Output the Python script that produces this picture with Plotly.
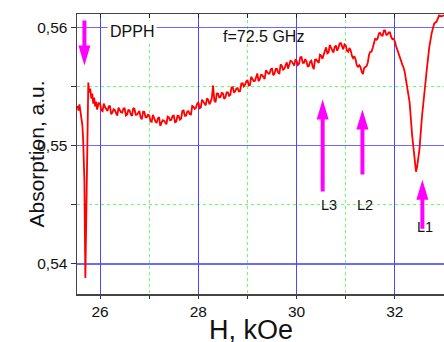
import plotly.graph_objects as go

# ---- data ----
field_koe = [
    25.54, 25.56, 25.58, 25.60, 25.62, 25.64, 25.655, 25.68, 25.70, 25.72, 25.74, 25.76,
    25.78, 25.80, 25.82, 25.84, 25.86, 25.88, 25.90, 25.92, 25.94, 25.97,
    26.00, 26.05, 26.10, 26.15, 26.20, 26.25, 26.30, 26.35, 26.40, 26.45,
    26.50, 26.55, 26.60, 26.65, 26.70, 26.75, 26.80, 26.85, 26.90, 26.95,
    27.00, 27.05, 27.10, 27.15, 27.20, 27.25, 27.30, 27.35, 27.40, 27.45,
    27.50, 27.55, 27.60, 27.65, 27.70, 27.75, 27.80, 27.85, 27.90, 27.95,
    28.00, 28.05, 28.10, 28.15, 28.20, 28.25, 28.30, 28.35, 28.40, 28.45,
    28.50, 28.55, 28.60, 28.65, 28.70, 28.75, 28.80, 28.85, 28.90, 28.95,
    29.00, 29.05, 29.10, 29.15, 29.20, 29.25, 29.30, 29.35, 29.40, 29.45,
    29.50, 29.55, 29.60, 29.65, 29.70, 29.75, 29.80, 29.85, 29.90, 29.95,
    30.00, 30.05, 30.10, 30.15, 30.20, 30.25, 30.30, 30.35, 30.40, 30.45,
    30.50, 30.55, 30.60, 30.65, 30.70, 30.75, 30.80, 30.85, 30.90, 30.95,
    31.00, 31.05, 31.10, 31.15, 31.20, 31.25, 31.30, 31.35, 31.40, 31.45,
    31.50, 31.55, 31.60, 31.65, 31.70, 31.75, 31.80, 31.85, 31.90, 31.95,
    32.00, 32.05, 32.10, 32.15, 32.20, 32.25, 32.30, 32.35, 32.40, 32.43,
    32.45, 32.50, 32.55, 32.60, 32.65, 32.70, 32.75, 32.80, 32.85, 32.90,
    32.95, 33.00,
]
absorption = [
    0.55339, 0.55297, 0.55348, 0.55280, 0.55238, 0.55170, 0.55051, 0.54712, 0.53881, 0.54542, 0.55195, 0.55534,
    0.55449, 0.55483, 0.55399, 0.55441, 0.55356, 0.55407, 0.55331, 0.55373, 0.55305, 0.55360,
    0.55356, 0.55292, 0.55326, 0.55293, 0.55339, 0.55279, 0.55300, 0.55255, 0.55303, 0.55279,
    0.55316, 0.55263, 0.55300, 0.55251, 0.55310, 0.55262, 0.55293, 0.55223, 0.55285, 0.55240,
    0.55256, 0.55202, 0.55231, 0.55192, 0.55241, 0.55192, 0.55212, 0.55181, 0.55240, 0.55218,
    0.55254, 0.55203, 0.55250, 0.55229, 0.55297, 0.55254, 0.55291, 0.55263, 0.55329, 0.55318,
    0.55367, 0.55323, 0.55372, 0.55340, 0.55388, 0.55369, 0.55509, 0.55367, 0.55441, 0.55410,
    0.55442, 0.55406, 0.55451, 0.55429, 0.55495, 0.55459, 0.55487, 0.55461, 0.55527, 0.55514,
    0.55555, 0.55513, 0.55559, 0.55547, 0.55610, 0.55563, 0.55596, 0.55564, 0.55625, 0.55610,
    0.55651, 0.55607, 0.55648, 0.55611, 0.55674, 0.55651, 0.55704, 0.55681, 0.55713, 0.55677,
    0.55718, 0.55692, 0.55749, 0.55700, 0.55712, 0.55673, 0.55718, 0.55647, 0.55729, 0.55699,
    0.55762, 0.55763, 0.55831, 0.55788, 0.55821, 0.55788, 0.55846, 0.55826, 0.55867, 0.55814,
    0.55847, 0.55794, 0.55806, 0.55740, 0.55730, 0.55667, 0.55665, 0.55605, 0.55669, 0.55705,
    0.55794, 0.55827, 0.55906, 0.55906, 0.55953, 0.55929, 0.55973, 0.55939, 0.55957, 0.55901,
    0.55881, 0.55810, 0.55760, 0.55685, 0.55624, 0.55512, 0.55365, 0.55094, 0.54882, 0.54780,
    0.54814, 0.54967, 0.55238, 0.55475, 0.55644, 0.55831, 0.55953, 0.56033, 0.56049, 0.56101,
    0.56094, 0.56102,
]
# additional in-between samples of the noisy trace
field_fine = [
    26.025, 26.075, 26.125, 26.175, 26.225, 26.275, 26.325, 26.375, 26.425, 26.475,
    26.525, 26.575, 26.625, 26.675, 26.725, 26.775, 26.825, 26.875, 26.925, 26.975,
    27.025, 27.075, 27.125, 27.175, 27.225, 27.275, 27.325, 27.375, 27.425, 27.475,
    27.525, 27.575, 27.625, 27.675, 27.725, 27.775, 27.825, 27.875, 27.925, 27.975,
    28.025, 28.075, 28.125, 28.175, 28.225, 28.275, 28.325, 28.375, 28.425, 28.475,
    28.525, 28.575, 28.625, 28.675, 28.725, 28.775, 28.825, 28.875, 28.925, 28.975,
    29.025, 29.075, 29.125, 29.175, 29.225, 29.275, 29.325, 29.375, 29.425, 29.475,
    29.525, 29.575, 29.625, 29.675, 29.725, 29.775, 29.825, 29.875, 29.925, 29.975,
    30.025, 30.075, 30.125, 30.175, 30.225, 30.275, 30.325, 30.375, 30.425, 30.475,
    30.525, 30.575, 30.625, 30.675, 30.725, 30.775, 30.825, 30.875, 30.925, 30.975,
    31.025, 31.075, 31.125, 31.175, 31.225, 31.275, 31.325, 31.375, 31.425, 31.475,
    31.525, 31.575, 31.625, 31.675, 31.725, 31.775, 31.825, 31.875, 31.925, 31.975,
    32.025, 32.075, 32.125, 32.175,
]
absorption_fine = [
    0.55299, 0.55355, 0.55302, 0.55330, 0.55267, 0.55308, 0.55275, 0.55322, 0.55283, 0.55314,
    0.55255, 0.55302, 0.55262, 0.55320, 0.55261, 0.55280, 0.55238, 0.55286, 0.55241, 0.55261,
    0.55206, 0.55260, 0.55205, 0.55230, 0.55168, 0.55215, 0.55190, 0.55246, 0.55214, 0.55251,
    0.55198, 0.55252, 0.55220, 0.55293, 0.55253, 0.55288, 0.55265, 0.55335, 0.55311, 0.55352,
    0.55316, 0.55389, 0.55355, 0.55400, 0.55350, 0.55404, 0.55383, 0.55440, 0.55409, 0.55446,
    0.55396, 0.55451, 0.55421, 0.55492, 0.55448, 0.55483, 0.55458, 0.55525, 0.55501, 0.55543,
    0.55509, 0.55582, 0.55546, 0.55592, 0.55545, 0.55598, 0.55578, 0.55637, 0.55610, 0.55647,
    0.55595, 0.55648, 0.55616, 0.55687, 0.55642, 0.55676, 0.55651, 0.55718, 0.55690, 0.55725,
    0.55682, 0.55747, 0.55700, 0.55732, 0.55670, 0.55709, 0.55671, 0.55727, 0.55712, 0.55768,
    0.55734, 0.55803, 0.55780, 0.55852, 0.55805, 0.55835, 0.55803, 0.55864, 0.55829, 0.55856,
    0.55803, 0.55826, 0.55761, 0.55755, 0.55679, 0.55680, 0.55625, 0.55656, 0.55673, 0.55770,
    0.55795, 0.55883, 0.55895, 0.55949, 0.55931, 0.55972, 0.55938, 0.55957, 0.55918, 0.55904,
    0.55840, 0.55798, 0.55719, 0.55663,
]

x_ticks = [26, 28, 30, 32]
x_minor = [27, 29, 31]
y_ticks = [0.54, 0.55, 0.56]
y_minor = [0.545, 0.555]

# arrow markers: field, tip absorption, total length (px), direction
arrow_field = [25.681, 30.53, 31.34, 32.56]
arrow_tip = [0.55678, 0.55390, 0.55305, 0.54712]
arrow_len = [45, 92, 65, 49]
arrow_dir = [-1, 1, 1, 1]   # -1 points down, 1 points up

line_labels = ["L3", "L2", "L1"]
line_label_field = [30.66, 31.39, 32.605]
line_label_abs = [0.54500, 0.54500, 0.54314]

FONT = "Arial, Liberation Sans, sans-serif"
MAGENTA = "#ff00ff"

pairs = sorted(zip(field_koe + field_fine, absorption + absorption_fine))
trace_x = [p[0] for p in pairs]
trace_y = [p[1] for p in pairs]

fig = go.Figure()
fig.add_trace(go.Scatter(
    x=trace_x, y=trace_y, mode="lines",
    line=dict(color="#ff0000", width=1.8), showlegend=False, hoverinfo="skip",
))
# invisible trace for the top axis (inner ticks)
fig.add_trace(go.Scatter(x=[trace_x[0]], y=[trace_y[0]], xaxis="x2",
                         mode="markers", marker=dict(opacity=0), showlegend=False,
                         hoverinfo="skip"))

shapes = []
for fx, ty, ln, d in zip(arrow_field, arrow_tip, arrow_len, arrow_dir):
    hl, hw, sw = 20, 6, 2
    s = -d  # toward the tail; pixel y is positive upward
    path = (f"M0,0 L{-hw},{s*hl} L{-sw},{s*hl} L{-sw},{s*ln} "
            f"L{sw},{s*ln} L{sw},{s*hl} L{hw},{s*hl} Z")
    shapes.append(dict(type="path", xref="x", yref="y", xsizemode="pixel",
                       ysizemode="pixel", xanchor=fx, yanchor=ty, path=path,
                       fillcolor=MAGENTA, line=dict(width=0), layer="above"))

annotations = [
    dict(text="DPPH", x=26.65, y=0.56, xref="x", yref="y", showarrow=False,
         font=dict(family=FONT, size=16, color="#111"), bgcolor="white",
         borderpad=2, yshift=-4),
    dict(text="f=72.5 GHz", x=29.33, y=0.5592, xref="x", yref="y", showarrow=False,
         font=dict(family=FONT, size=16, color="#111")),
    dict(text="Absorption, a.u.", x=0, y=0.5, xref="paper", yref="paper",
         xshift=-55, textangle=-90, showarrow=False,
         font=dict(family=FONT, size=21, color="#111")),
    dict(text="H, kOe", x=0.474, y=0, xref="paper", yref="paper",
         yanchor="middle", yshift=-36, showarrow=False,
         font=dict(family=FONT, size=27, color="#111")),
]
for t, fx, fy in zip(line_labels, line_label_field, line_label_abs):
    annotations.append(dict(text=t, x=fx, y=fy, xref="x", yref="y", showarrow=False,
                            font=dict(family=FONT, size=14.5, color="#111")))

fig.update_layout(
    width=444, height=342,
    margin=dict(l=77, r=0, t=14, b=48),
    paper_bgcolor="white", plot_bgcolor="white",
    separators=",.",
    showlegend=False,
    hovermode=False,
    shapes=shapes,
    annotations=annotations,
    xaxis=dict(
        range=[25.53, 33.0], tickvals=x_ticks, ticktext=[str(v) for v in x_ticks],
        ticks="outside", ticklen=3, tickwidth=1, tickcolor="#333",
        showline=True, linecolor="#444", linewidth=1.5, mirror=True,
        showgrid=True, gridcolor="rgba(40,40,255,0.85)", gridwidth=1,
        zeroline=False,
        tickfont=dict(family=FONT, size=15.5, color="#111"),
        minor=dict(tickvals=x_minor, ticks="outside", ticklen=3,
                   tickcolor="#333", showgrid=True, gridcolor="#66ff66",
                   griddash="dot", gridwidth=1),
    ),
    xaxis2=dict(
        overlaying="x", side="top", range=[25.53, 33.0],
        tickvals=x_ticks + x_minor, ticks="inside", ticklen=4,
        tickcolor="#222", showticklabels=False, showgrid=False, zeroline=False,
        showline=False,
    ),
    yaxis=dict(
        range=[0.53746, 0.56113], tickvals=y_ticks, tickformat=".2f",
        ticks="outside", ticklen=5, tickwidth=1, tickcolor="#333",
        showline=True, linecolor="#444", linewidth=1.5, mirror=False,
        showgrid=True, gridcolor="rgba(70,70,255,0.8)", gridwidth=1.6,
        zeroline=False,
        tickfont=dict(family=FONT, size=15.5, color="#111"),
        minor=dict(tickvals=y_minor, ticks="outside", ticklen=5,
                   tickcolor="#333", showgrid=True, gridcolor="#66ff66",
                   griddash="dot", gridwidth=1),
    ),
)

fig.write_html(
    "out.html",
    config={"displayModeBar": False, "staticPlot": True},
    post_script="document.body.style.margin='0px';"
                "document.documentElement.style.overflow='hidden';",
)
